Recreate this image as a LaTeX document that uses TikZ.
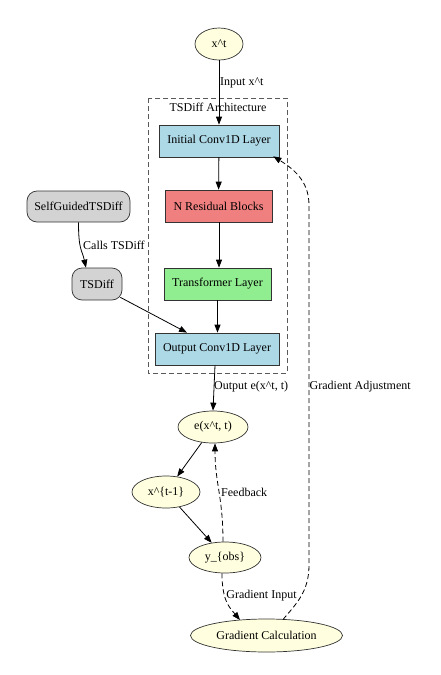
\documentclass[tikz,border=0pt]{standalone}
\usepackage{fontspec}
\setmainfont{Liberation Serif}
\usetikzlibrary{arrows.meta,shapes.geometric}
\definecolor{lyellow}{HTML}{FFFFE0}
\definecolor{lblue}{HTML}{ADD8E6}
\definecolor{lcoral}{HTML}{F08080}
\definecolor{lgreen}{HTML}{90EE90}
\definecolor{lgray}{HTML}{D3D3D3}
\definecolor{bord}{HTML}{333333}
\tikzset{
  ell/.style={ellipse, draw=bord, line width=0.7pt, fill=lyellow, inner sep=0pt},
  box/.style={rectangle, draw=bord, line width=0.7pt, inner sep=0pt, minimum height=32pt},
  rbox/.style={rectangle, rounded corners=10pt, draw=bord, line width=0.7pt, fill=lgray, inner sep=0pt, minimum height=31pt},
  arr/.style={-{Triangle[length=8pt,width=6pt]}, line width=0.8pt, black},
  darr/.style={arr, dash pattern=on 5pt off 3pt},
  lbl/.style={inner sep=0pt, anchor=west},
  cluster/.style={draw=black!65, line width=0.8pt, dash pattern=on 5pt off 3pt}
}
\begin{document}
\begin{tikzpicture}[x=1pt,y=-1pt, font=\fontsize{12}{14}\selectfont]
\useasboundingbox (0,0) rectangle (440,675);
% cluster
\draw[cluster] (148,98) rectangle (287,373);
\node[inner sep=0pt] (clab) at (218,107) {TSDiff Architecture};
% nodes
\node[ell, minimum width=48pt, minimum height=32pt] (xt) at (219,44) {x\textasciicircum t};
\node[box, fill=lblue, minimum width=120pt] (init) at (219,141) {Initial Conv1D Layer};
\node[box, fill=lcoral, minimum width=107pt] (res) at (218.5,206) {N Residual Blocks};
\node[box, fill=lgreen, minimum width=107pt] (tr) at (217.5,284) {Transformer Layer};
\node[box, fill=lblue, minimum width=124pt] (oc) at (217,349) {Output Conv1D Layer};
\node[rbox, minimum width=103pt] (sg) at (78.5,206.5) {SelfGuidedTSDiff};
\node[rbox, minimum width=50pt, minimum height=32pt] (ts) at (97,284) {TSDiff};
\node[ell, minimum width=70pt, minimum height=32pt] (e) at (213,427) {e(x\textasciicircum t, t)};
\node[ell, minimum width=68pt, minimum height=32pt] (xt1) at (166,492) {x\textasciicircum\{t-1\}};
\node[ell, minimum width=72pt, minimum height=31pt] (yobs) at (225,557.5) {y\_\{obs\}};
\node[ell, minimum width=152pt, minimum height=33pt] (gc) at (266.5,635.5) {Gradient Calculation};
% edges
\draw[arr] (xt) -- (init);
\draw[arr] (init) -- (res);
\draw[arr] (res.south -| init.south) -- (tr.north -| init.south);
\draw[arr] (tr) -- (oc.north -| tr.south);
\draw[arr] (sg.south) .. controls +(0,28) and +(-4,-18) .. ([xshift=-11pt]ts.north);
\draw[arr] ([xshift=-2pt,yshift=3pt]ts.south east) -- ([xshift=-30pt]oc.north);
\draw[arr] ([xshift=-2pt]oc.south) -- (e.north);
\draw[arr] (e) -- (xt1);
\draw[arr] (xt1) -- (yobs);
\draw[darr] ([xshift=-2pt]yobs.north) .. controls +(0,-45) and +(0,40) .. ([xshift=2pt]e.south);
\draw[darr] ([xshift=-3pt]yobs.south) .. controls +(0,28) and +(-10,-12) .. (240,620);
\coordinate (gcs) at (283,619.5);
\draw[darr] (gcs) .. controls (296,604) and (309,592) .. (309,565) -- (309,205) .. controls (309,180) and (292,168) .. ([xshift=-6pt,yshift=1pt]init.south east);
% labels
\node[lbl] (linput) at (220,83) {Input x\textasciicircum t};
\node[lbl] (lcalls) at (83,245) {Calls TSDiff};
\node[lbl] (lout) at (214,387) {Output e(x\textasciicircum t, t)};
\node[lbl] (ladj) at (309.5,387) {Gradient Adjustment};
\node[lbl] (lfb) at (221,492) {Feedback};
\node[inner sep=0pt] (lgi) at (261.5,596) {Gradient Input};
\end{tikzpicture}
\end{document}
